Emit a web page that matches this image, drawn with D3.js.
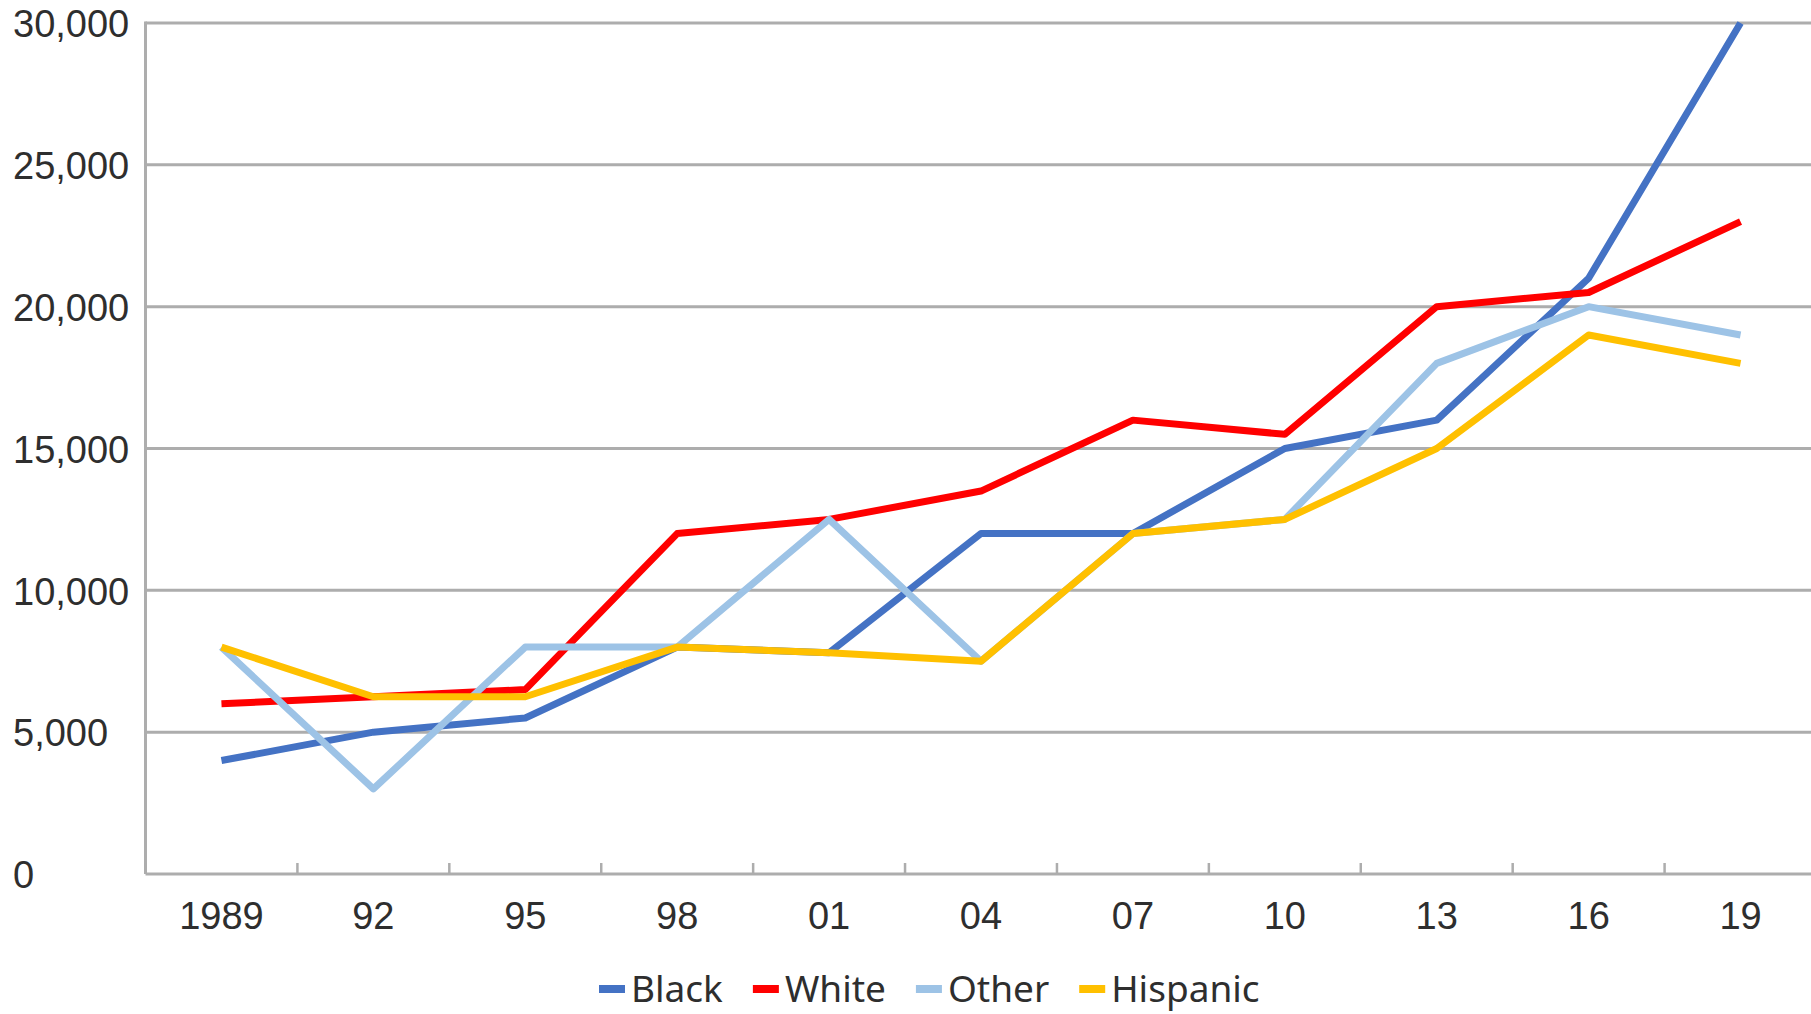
<!DOCTYPE html>
<html>
<head>
<meta charset="utf-8">
<script src="https://cdn.jsdelivr.net/npm/d3@7"></script>
<style>
  html, body { margin: 0; padding: 0; background: #fff; overflow: hidden; }
  svg { display: block; font-family: "Noto Sans", "Open Sans", sans-serif; }
</style>
</head>
<body>
<svg id="chart" width="1811" height="1014"></svg>
<script>
// Survey years (two-digit labels after the first)
const years = ["1989", "92", "95", "98", "01", "04", "07", "10", "13", "16", "19"];

// Values per group, one per survey year
const black    = [4000, 5000, 5500, 8000, 7800, 12000, 12000, 15000, 16000, 21000, 30000];
const white    = [6000, 6250, 6500, 12000, 12500, 13500, 16000, 15500, 20000, 20500, 23000];
const other    = [8000, 3000, 8000, 8000, 12500, 7500, 12000, 12500, 18000, 20000, 19000];
const hispanic = [8000, 6250, 6250, 8000, 7800, 7500, 12000, 12500, 15000, 19000, 18000];

const seriesNames  = ["Black", "White", "Other", "Hispanic"];
const seriesColors = ["#4472C4", "#FF0000", "#9DC3E6", "#FFC000"];
const yTicks = [0, 5000, 10000, 15000, 20000, 25000, 30000];

const series = [black, white, other, hispanic].map((values, i) => ({
  name: seriesNames[i],
  color: seriesColors[i],
  values: values.map((v, j) => ({ year: years[j], value: v }))
}));

const svg = d3.select("#chart");
const plot = { left: 145.5, right: 1816.5, top: 23, bottom: 874 };

const x = d3.scaleBand().domain(years).range([plot.left, plot.right]);
const y = d3.scaleLinear().domain([0, 30000]).range([plot.bottom, plot.top]);

const gridColor = "#ADADAD";
const textColor = "#2E2E2E";
const fontSize = "38px";

// Horizontal gridlines
svg.append("g")
  .selectAll("line")
  .data(yTicks.filter(d => d > 0))
  .join("line")
  .attr("x1", plot.left).attr("x2", plot.right)
  .attr("y1", d => y(d)).attr("y2", d => y(d))
  .attr("stroke", gridColor).attr("stroke-width", 3);

// Y axis: vertical line plus left-aligned labels
const yAxis = svg.append("g")
  .attr("transform", `translate(${plot.left},0)`)
  .call(d3.axisLeft(y).tickValues(yTicks).tickSize(0).tickFormat(d3.format(",")));
yAxis.select(".domain").attr("stroke", gridColor).attr("stroke-width", 3)
  .attr("d", `M0,${plot.top - 1.5}V${plot.bottom}`);
yAxis.selectAll("text")
  .attr("x", 13 - plot.left)
  .attr("dy", "0.36em")
  .attr("text-anchor", "start")
  .attr("fill", textColor)
  .style("font-size", fontSize);

// X axis: labels centred in each band, tick marks at band edges
const xAxis = svg.append("g")
  .attr("transform", `translate(0,${plot.bottom})`)
  .call(d3.axisBottom(x).tickSize(0).tickPadding(28));
xAxis.select(".domain").remove();
xAxis.selectAll("text")
  .attr("fill", textColor)
  .style("font-size", fontSize);

svg.append("line")
  .attr("x1", plot.left).attr("x2", plot.right)
  .attr("y1", plot.bottom).attr("y2", plot.bottom)
  .attr("stroke", gridColor).attr("stroke-width", 3);

const edges = years.map(d => x(d)).concat([x.range()[1]]);
svg.append("g")
  .selectAll("line")
  .data(edges)
  .join("line")
  .attr("x1", d => d).attr("x2", d => d)
  .attr("y1", plot.bottom).attr("y2", plot.bottom - 11)
  .attr("stroke", gridColor).attr("stroke-width", 2.5);

// Series lines
const line = d3.line()
  .x(d => x(d.year) + x.bandwidth() / 2)
  .y(d => y(d.value));

svg.append("g")
  .selectAll("path")
  .data(series)
  .join("path")
  .attr("d", d => line(d.values))
  .attr("fill", "none")
  .attr("stroke", d => d.color)
  .attr("stroke-width", 7)
  .attr("stroke-linejoin", "round");

// Legend along the bottom
const legend = svg.append("g").attr("transform", "translate(599,989)");
let cursor = 0;
series.forEach(s => {
  const item = legend.append("g").attr("transform", `translate(${cursor},0)`);
  item.append("rect")
    .attr("x", 0).attr("y", -4).attr("width", 26).attr("height", 8)
    .attr("fill", s.color);
  const t = item.append("text")
    .attr("x", 32).attr("dy", "0.36em")
    .attr("fill", textColor)
    .style("font-size", "37px")
    .text(s.name);
  cursor += 32 + t.node().getComputedTextLength() + 30;
});
</script>
</body>
</html>
